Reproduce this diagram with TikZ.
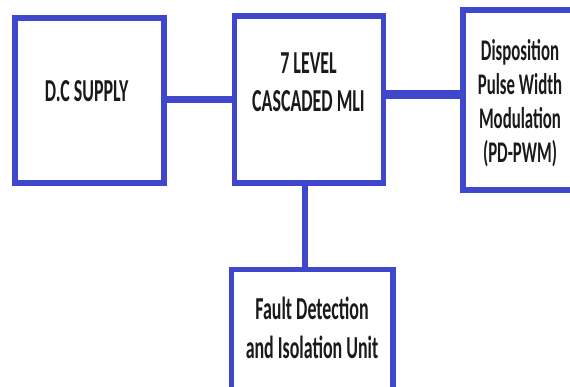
\documentclass[tikz,border=0pt]{standalone}
\usepackage{fontspec}
\setmainfont[FakeStretch=0.56]{Carlito}
\definecolor{boxblue}{RGB}{63,72,204}
\definecolor{txt}{RGB}{26,26,26}
\begin{document}
\begin{tikzpicture}[x=1pt,y=-1pt,
  box/.style={draw=boxblue, line width=5.2pt, inner sep=0pt, outer sep=0pt, fill=white},
  conn/.style={draw=boxblue},
  lbl/.style={font=\fontsize{32}{38.4}\selectfont\bfseries, text=txt, align=center, anchor=base, inner sep=0pt}]
\useasboundingbox (0,0) rectangle (570,387);
\clip (0,0) rectangle (570,387);
\node[box, minimum width=149pt, minimum height=165pt] (dc) at (89.5,100.5) {};
\node[box, minimum width=149pt, minimum height=167pt] (mli) at (309,99.5) {};
\node[box, minimum width=157pt, minimum height=180pt] (pwm) at (541.5,100) {};
\node[box, minimum width=161.3pt, minimum height=170.5pt] (fault) at (312.35,354.75) {};
\draw[conn, line width=7pt] ([yshift=1pt]dc.east) -- ([yshift=1pt]dc.east -| mli.west);
\draw[conn, line width=8.5pt] ([yshift=5pt]mli.east) -- ([yshift=5pt]mli.east -| pwm.west);
\draw[conn, line width=6pt] ([xshift=-4.5pt]mli.south) -- ([xshift=-4.5pt]mli.south |- fault.north);
\node[lbl] (dct) at (86.7,101.7) {D.C SUPPLY};
\node[lbl] (mlit) at (308.5,111.7) {7 LEVEL\\CASCADED MLI};
\node[lbl, font=\fontsize{30}{34}\selectfont\bfseries] (pwmt) at (520,162.9) {Disposition\\Pulse Width\\Modulation\\(PD-PWM)};
\node[lbl] (faultt) at (312,358.3) {Fault Detection\\and Isolation Unit};
\end{tikzpicture}
\end{document}
